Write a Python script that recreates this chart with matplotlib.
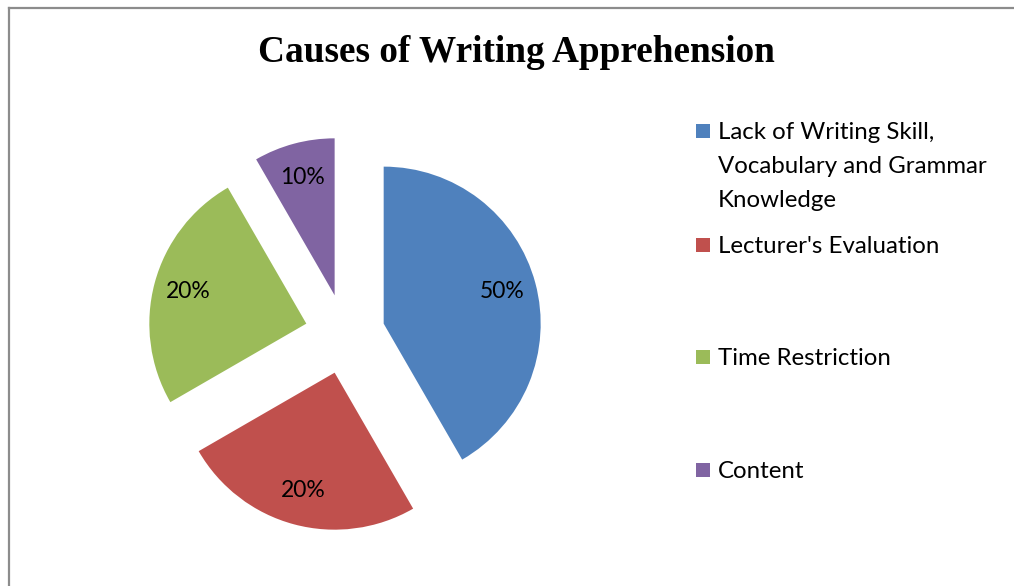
import matplotlib
matplotlib.use("Agg")
from matplotlib import pyplot as plt
from matplotlib.patches import Rectangle
from matplotlib.lines import Line2D

# data
categories = ["Lack of Writing Skill,\nVocabulary and Grammar\nKnowledge",
              "Lecturer's Evaluation",
              "Time Restriction",
              "Content"]
values = [5, 3, 3, 1]
pct_labels = ["50%", "20%", "20%", "10%"]
colors = ["#4F81BD", "#C0504D", "#9BBB59", "#8064A2"]

W, H = 1014, 586
fig = plt.figure(figsize=(W / 100, H / 100), dpi=100)
fig.patch.set_facecolor("white")

# outer chart frame (left and top edges visible)
fig.add_artist(Line2D([9 / W, 9 / W], [0, 1 - 8 / H], color="#8c8c8c", lw=1.6))
fig.add_artist(Line2D([9 / W, 1], [1 - 8 / H, 1 - 8 / H], color="#8c8c8c", lw=1.6))

# pie axes: centre at (345, 334) px, radius 157 px
cx, cy, R = 345, 334, 157
half = 240
ax = fig.add_axes([(cx - half) / W, (H - cy - half) / H, 2 * half / W, 2 * half / H])
wedges, texts = ax.pie(values, colors=colors, startangle=90, counterclock=False,
                       explode=[0.255] * 4, labels=pct_labels, labeldistance=0.78,
                       wedgeprops=dict(linewidth=0))
for t in texts:
    t.set_ha("center")
    t.set_va("center")
    t.set_fontsize(16.5)
    t.set_family("Lato")
ax.set_xlim(-half / R, half / R)
ax.set_ylim(-half / R, half / R)
ax.set_aspect("equal")
ax.axis("off")

fig.text(516 / W, 1 - 53 / H, "Causes of Writing Apprehension", ha="center", va="center",
         family="Liberation Serif", fontweight="bold", fontsize=26.8)

# legend drawn by hand so the spacing follows the original
leg_y = [131, 245, 357, 470]
for name, col, y in zip(categories, colors, leg_y):
    fig.add_artist(Rectangle((696 / W, 1 - (y + 7) / H), 14 / W, 14 / H,
                             transform=fig.transFigure, facecolor=col, edgecolor="none"))
    fig.text(718 / W, 1 - (y - 9) / H, name, ha="left", va="top", fontsize=17.3,
             family="Lato", linespacing=1.76)

fig.savefig("out.png", dpi=100)
